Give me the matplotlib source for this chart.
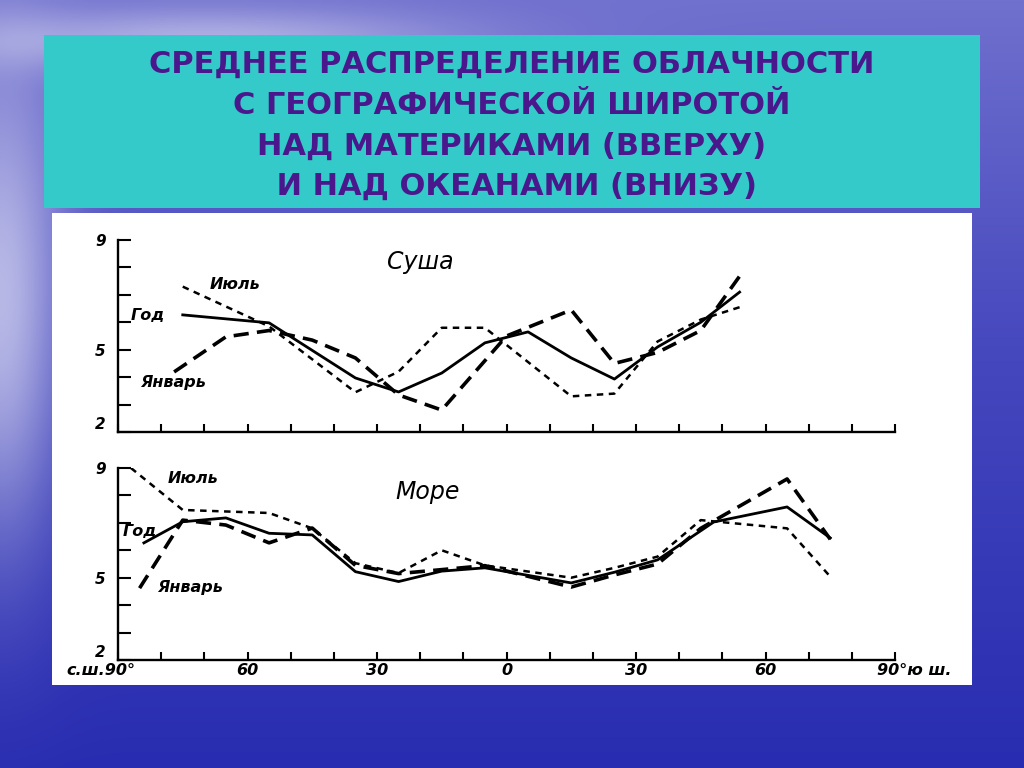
import numpy as np
import matplotlib
matplotlib.use('Agg')
import matplotlib.pyplot as plt
from matplotlib.patches import Rectangle

# ---------------- data ----------------
title_lines = ["СРЕДНЕЕ РАСПРЕДЕЛЕНИЕ ОБЛАЧНОСТИ",
               "С ГЕОГРАФИЧЕСКОЙ ШИРОТОЙ",
               "НАД МАТЕРИКАМИ (ВВЕРХУ)",
               " И НАД ОКЕАНАМИ (ВНИЗУ)"]

# latitude: positive = north, negative = south
land_jul_lat = [75, 55, 35, 25, 15, 5, -15, -25, -35, -45, -54]
land_jul = [7.3, 5.85, 3.45, 4.2, 5.8, 5.8, 3.3, 3.4, 5.3, 6.1, 6.55]

land_year_lat = [75, 55, 35, 25, 15, 5, -5, -15, -25, -35, -45, -54]
land_year = [6.27, 5.98, 3.97, 3.46, 4.15, 5.25, 5.65, 4.7, 3.93, 5.1, 6.0, 7.1]

land_jan_lat = [77, 65, 55, 45, 35, 25, 15, 0, -15, -25, -35, -45, -55]
land_jan = [4.19, 5.47, 5.7, 5.35, 4.7, 3.35, 2.8, 5.5, 6.45, 4.5, 4.9, 5.7, 7.9]

sea_jul_lat = [87, 75, 55, 45, 35, 25, 15, 5, -15, -25, -35, -45, -65, -75]
sea_jul = [9.0, 7.47, 7.36, 6.8, 5.53, 5.17, 6.0, 5.45, 5.0, 5.36, 5.77, 7.1, 6.8, 5.04]

sea_year_lat = [84, 75, 65, 55, 45, 35, 25, 15, 5, -15, -25, -35, -48, -65, -75]
sea_year = [6.27, 7.04, 7.18, 6.62, 6.56, 5.22, 4.86, 5.24, 5.36, 4.81, 5.2, 5.65, 7.03, 7.58, 6.45]

sea_jan_lat = [85, 75, 65, 55, 45, 35, 25, 5, -15, -25, -35, -45, -65, -75]
sea_jan = [4.62, 7.1, 6.92, 6.27, 6.81, 5.45, 5.15, 5.44, 4.66, 5.1, 5.5, 6.8, 8.6, 6.4]

y_ticks = [2, 3, 4, 5, 6, 7, 8, 9]
y_labels = ["2", "", "", "5", "", "", "", "9"]
x_ticks = list(range(90, -91, -10))
x_label_map = {60: "60", 30: "30", 0: "0", -30: "30", -60: "60"}
x_left_label = "с.ш.90°"
x_right_label = "90°ю ш."

# ---------------- figure ----------------
W, H = 1024, 768
fig = plt.figure(figsize=(W / 100, H / 100), dpi=100)

# background (sky / sea)
bg = fig.add_axes([0, 0, 1, 1])
bg.set_axis_off()
yy, xx = np.mgrid[0:1:300j, 0:1:400j]
top = np.array([112, 112, 206]) / 255
mid = np.array([70, 72, 190]) / 255
bot = np.array([40, 44, 176]) / 255
t = yy[..., None]
img = np.where(t < 0.45, top * (1 - t / 0.45) + mid * (t / 0.45),
               mid * (1 - (t - 0.45) / 0.55) + bot * ((t - 0.45) / 0.55))
haze = np.exp(-((xx - 0.0) / 0.06) ** 2) * np.exp(-((yy - 0.4) / 0.3) ** 2)
haze2 = np.exp(-((xx - 0.2) / 0.25) ** 2) * np.exp(-((yy - 0.05) / 0.04) ** 2) * 0.45
img = img + (1 - img) * (0.6 * haze + haze2)[..., None]
bg.imshow(img, extent=[0, 1, 0, 1], aspect='auto', origin='upper', zorder=0)
bg.set_xlim(0, 1)
bg.set_ylim(0, 1)

def px_rect(x0, y0, x1, y1, color):
    bg.add_patch(Rectangle((x0 / W, 1 - y1 / H), (x1 - x0) / W, (y1 - y0) / H,
                           facecolor=color, edgecolor='none', zorder=1))

px_rect(44, 35, 980, 208, '#35CACA')
px_rect(52, 213, 972, 685, 'white')

title_color = '#4A188C'
for i, line in enumerate(title_lines):
    fig.text(512 / W, 1 - (73 + i * 40.7) / H, line, ha='center', va='baseline',
             fontsize=22, fontweight='bold', color=title_color,
             family='DejaVu Sans')

# ---------------- chart axes ----------------
def make_ax(y_bottom_px):
    ax = fig.add_axes([118 / W, 1 - y_bottom_px / H, (895 - 118) / W, 192 / H])
    ax.set_facecolor('none')
    ax.set_xlim(90, -90)
    ax.set_ylim(2, 9)
    for s in ['top', 'right']:
        ax.spines[s].set_visible(False)
    for s in ['left', 'bottom']:
        ax.spines[s].set_linewidth(1.7)
        ax.spines[s].set_color('black')
    ax.set_yticks(y_ticks)
    ax.set_yticklabels(y_labels)
    ax.set_xticks(x_ticks)
    ax.tick_params(axis='y', direction='in', length=9, width=1.5, pad=9)
    ax.tick_params(axis='x', direction='in', length=6, width=1.5, pad=2)
    for lab in ax.get_yticklabels():
        lab.set_fontstyle('italic')
        lab.set_fontweight('bold')
        lab.set_fontsize(11)
    ax.get_yticklabels()[0].set_verticalalignment('bottom')
    return ax

jul_style = dict(color='black', lw=1.8, linestyle=(0, (2.6, 2.2)))
year_style = dict(color='black', lw=2.0, linestyle='-')
jan_style = dict(color='black', lw=2.6, linestyle=(0, (4.2, 2.3)))
lab_kw = dict(fontstyle='italic', fontweight='bold', fontsize=11.5, ha='center',
              va='center', color='black')

ax1 = make_ax(432)
ax1.set_xticklabels([""] * len(x_ticks))
ax1.plot(land_jul_lat, land_jul, **jul_style)
ax1.plot(land_year_lat, land_year, **year_style)
ax1.plot(land_jan_lat, land_jan, **jan_style)
ax1.text(20.0, 8.2, "Суша", fontstyle='italic', fontsize=17, ha='center', va='center')
ax1.text(62.9, 7.36, "Июль", **lab_kw)
ax1.text(83.0, 6.23, "Год", **lab_kw)
ax1.text(77.3, 3.82, "Январь", **lab_kw)

ax2 = make_ax(660)
ax2.set_xticklabels([x_label_map.get(v, "") for v in x_ticks])
for lab in ax2.get_xticklabels():
    lab.set_fontstyle('italic')
    lab.set_fontweight('bold')
    lab.set_fontsize(11.5)
ax2.plot(sea_jul_lat, sea_jul, **jul_style)
ax2.plot(sea_year_lat, sea_year, **year_style)
ax2.plot(sea_jan_lat, sea_jan, **jan_style)
ax2.text(18.2, 8.12, "Море", fontstyle='italic', fontsize=17, ha='center', va='center')
ax2.text(72.6, 8.6, "Июль", **lab_kw)
ax2.text(84.9, 6.70, "Год", **lab_kw)
ax2.text(73.3, 4.66, "Январь", **lab_kw)
ax2.text(86.0, 1.62, x_left_label, fontstyle='italic', fontweight='bold', fontsize=11.5,
         ha='right', va='center')
ax2.text(-85.9, 1.62, x_right_label, fontstyle='italic', fontweight='bold', fontsize=11.5,
         ha='left', va='center')

fig.savefig('out.png', dpi=100)
